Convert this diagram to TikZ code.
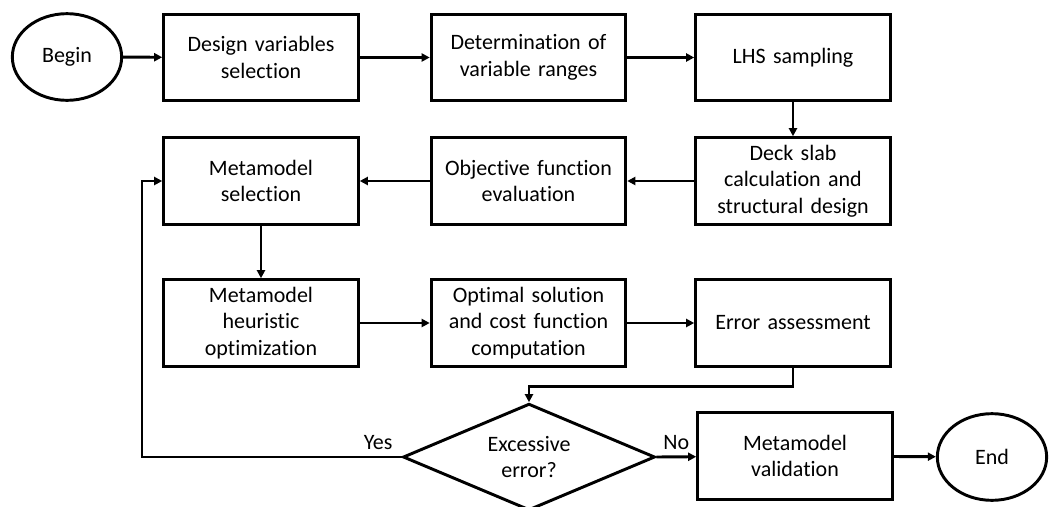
\documentclass[tikz,border=0pt]{standalone}
\usepackage{fontspec}
\setmainfont{Carlito}[Ligatures=NoCommon]
\usetikzlibrary{arrows.meta,shapes.geometric,positioning}

\begin{document}
\begin{tikzpicture}
[
    x=0.75pt, y=-0.75pt,
    every node/.style = {font=\fontsize{16.5}{20}\selectfont},
]

\tikzstyle{process}=[rectangle, draw=black, line width=2.2pt, minimum width=146pt, minimum height=65pt, inner sep=0pt, text width=142pt, align=center]
\tikzstyle{terminal}=[ellipse, draw=black, line width=2.2pt, minimum width=82pt, minimum height=65pt, inner sep=0pt]
\tikzstyle{decision}=[diamond, aspect=2.4, draw=black, line width=2.2pt, minimum width=189pt, minimum height=80pt, inner sep=0pt, align=center]
\tikzstyle{flow}=[line width=2.2pt, -{Triangle[length=6pt,width=6pt]}]

\useasboundingbox (0,0) rectangle (1054,507);

% first row
\node [terminal] (begin) at (67,57) {Begin};
\node [process] (dvs) at (261,57.5) {Design variables\\selection};
\node [process] (dvr) at (528.5,57.5) {Determination of\\variable ranges};
\node [process] (lhs) at (793,57.5) {LHS sampling};
% second row
\node [process] (deck) at (793,181) {Deck slab\\calculation and\\structural design};
\node [process] (objfun) at (528.5,181) {Objective function\\evaluation};
\node [process] (mmsel) at (261,181) {Metamodel\\selection};
% third row
\node [process] (mmopt) at (261,323) {Metamodel\\heuristic\\optimization};
\node [process] (optsol) at (528.5,323) {Optimal solution\\and cost function\\computation};
\node [process] (errass) at (793,323) {Error assessment};
% last row
\node [decision] (excess) at (529,457) {Excessive\\error?};
\node [process] (mmval) at (795,456) {Metamodel\\validation};
\node [terminal] (finish) at (992,457) {End};

\coordinate (loop) at (142,457);

\draw [flow] (begin) -- (dvs);
\draw [flow] (dvs) -- (dvr);
\draw [flow] (dvr) -- (lhs);
\draw [flow] (lhs) -- (deck);
\draw [flow] (deck) -- (objfun);
\draw [flow] (objfun) -- (mmsel);
\draw [flow] (mmsel) -- (mmopt);
\draw [flow] (mmopt) -- (optsol);
\draw [flow] (optsol) -- (errass);
\draw [flow] (errass.south) -- ++(0,19) -| (excess.north);
\draw [flow] (excess.west) -- node[pos=0.09, above=1pt] (yes) {Yes} (loop) |- (mmsel.west);
\draw [flow] (excess.east) -- node[above=1pt] (no) {No} (mmval);
\draw [flow] (mmval) -- (finish);
\end{tikzpicture}
\end{document}
